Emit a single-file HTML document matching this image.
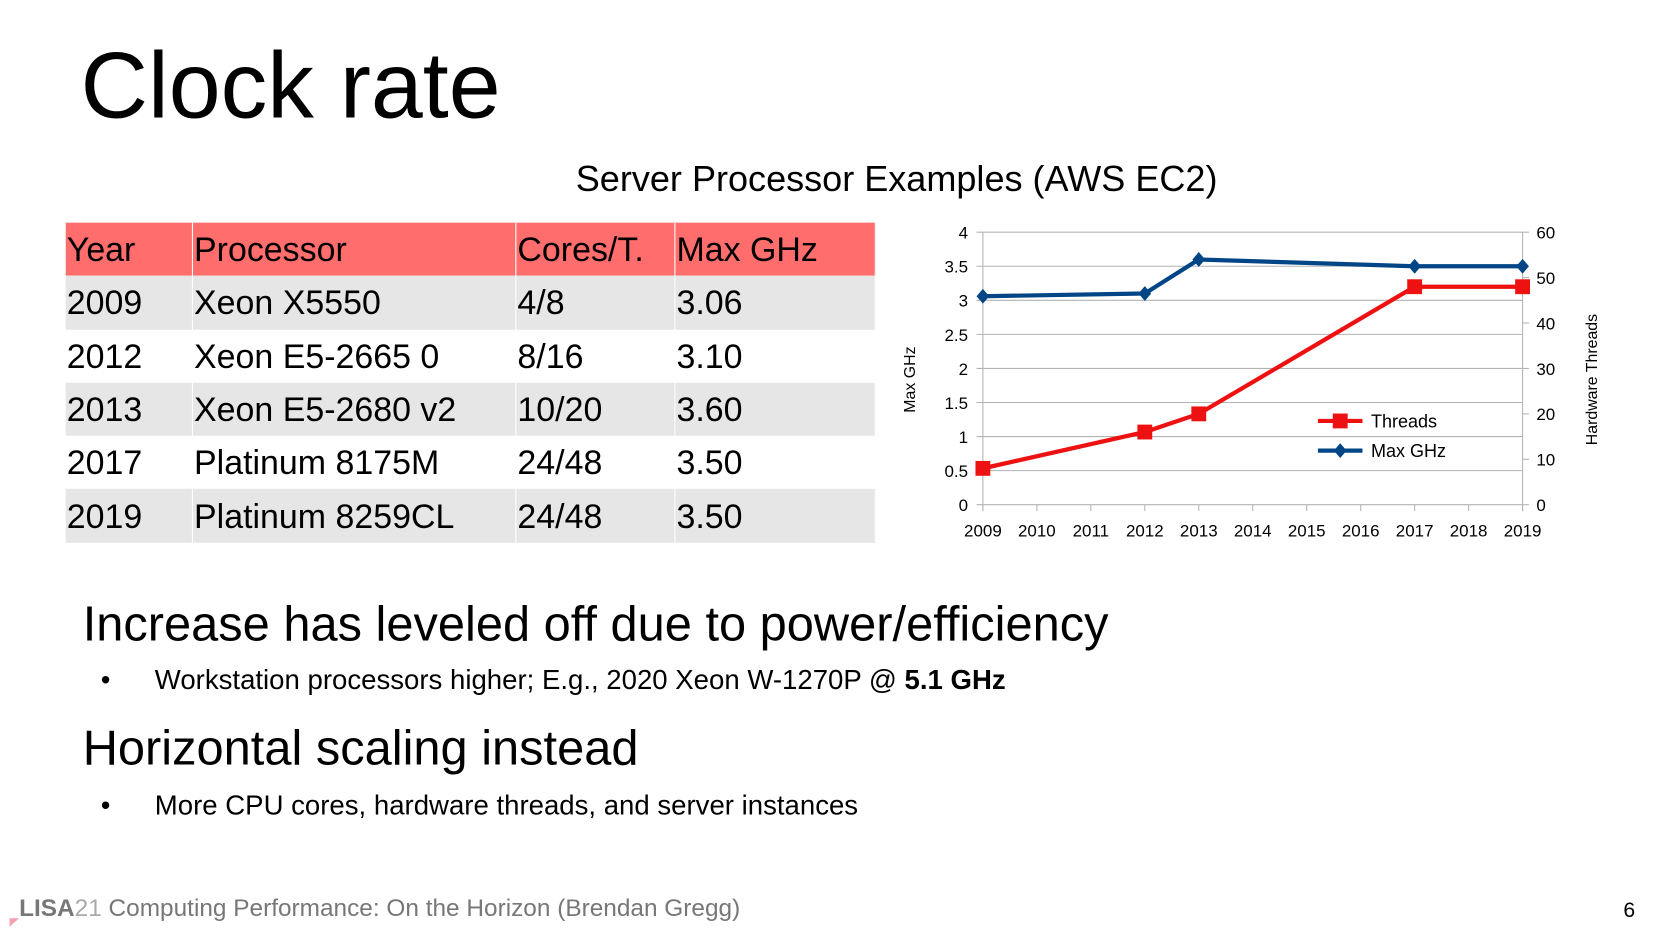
<!DOCTYPE html>
<html><head><meta charset="utf-8"><style>
body{margin:0;width:1654px;height:931px;overflow:hidden;background:#fff;font-family:"Liberation Sans",sans-serif}
#s{position:absolute;left:0;top:0;width:1560px;height:878px;transform:scale(1.0603);transform-origin:0 0}
.a{position:absolute;white-space:nowrap;color:#000}
table{position:absolute;left:62px;top:210px;border-collapse:collapse;font-size:32px}
td{height:50.3px;padding:0 0 0 1px;border-right:1px solid #fff;vertical-align:middle;line-height:1}
tr.h td{background:#ff6d6d}
tr.g td{background:#e6e6e6}
</style></head><body>
<div id="s">
<div class="a" style="left:76px;top:30px;font-size:88px">Clock rate</div>
<div class="a" style="left:543px;top:150px;font-size:34px">Server Processor Examples (AWS EC2)</div>
<table>
<tr class="h"><td style="width:118px">Year</td><td style="width:303px">Processor</td><td style="width:148px">Cores/T.</td><td style="width:187px">Max GHz</td></tr>
<tr class="g"><td>2009</td><td>Xeon X5550</td><td>4/8</td><td>3.06</td></tr>
<tr><td>2012</td><td>Xeon E5-2665 0</td><td>8/16</td><td>3.10</td></tr>
<tr class="g"><td>2013</td><td>Xeon E5-2680 v2</td><td>10/20</td><td>3.60</td></tr>
<tr><td>2017</td><td>Platinum 8175M</td><td>24/48</td><td>3.50</td></tr>
<tr class="g"><td>2019</td><td>Platinum 8259CL</td><td>24/48</td><td>3.50</td></tr>
</table>
<svg id="chart" width="1560" height="878" style="position:absolute;left:0;top:0" font-family="Liberation Sans, sans-serif"></svg>
<div class="a" style="left:78px;top:561px;font-size:46px">Increase has leveled off due to power/efficiency</div>
<div class="a" style="left:95px;top:626px;font-size:26px">•<span style="position:absolute;left:51px">Workstation processors higher; E.g., 2020 Xeon W-1270P @ <b>5.1 GHz</b></span></div>
<div class="a" style="left:78px;top:678px;font-size:46px">Horizontal scaling instead</div>
<div class="a" style="left:95px;top:744px;font-size:26px">•<span style="position:absolute;left:51px">More CPU cores, hardware threads, and server instances</span></div>
<div class="a" style="left:18px;top:843px;font-size:23px;color:#777"><b>LISA</b><span style="color:#aaa">21</span> Computing Performance: On the Horizon (Brendan Gregg)</div>
<div class="a" style="left:9px;top:866px;width:0;height:0;border-left:9px solid #f3a0b0;border-bottom:8px solid transparent"></div>
<div class="a" style="left:1531px;top:848px;font-size:20px">6</div>
</div>
<script>
const years=[2009,2010,2011,2012,2013,2014,2015,2016,2017,2018,2019];
const ptYears=[2009,2012,2013,2017,2019];
const ghz=[3.06,3.10,3.60,3.50,3.50];
const threads=[8,16,20,48,48];
const leftTicks=[0,0.5,1,1.5,2,2.5,3,3.5,4];
const rightTicks=[0,10,20,30,40,50,60];
const svg=document.getElementById('chart');const NS='http://www.w3.org/2000/svg';
const X0=927,X1=1436,Y0=476,Y1=219;
const x=v=>X0+(v-2009)/(2019-2009)*(X1-X0);
const yL=v=>Y0-v/4*(Y0-Y1);
const yR=v=>Y0-v/60*(Y0-Y1);
function mk(t,a,p){const e=document.createElementNS(NS,t);for(const k in a)e.setAttribute(k,a[k]);(p||svg).appendChild(e);return e;}
leftTicks.forEach(v=>{
const l=mk('line',{x1:X0-6,x2:X1,y1:yL(v),y2:yL(v),stroke:'#b3b3b3'});


const t=mk('text',{x:913,y:yL(v)+6,'text-anchor':'end','font-size':16});t.textContent=v;


});
rightTicks.forEach(v=>{
mk('line',{x1:X1,x2:X1+6,y1:yR(v),y2:yR(v),stroke:'#b3b3b3'});
const t=mk('text',{x:1449,y:yR(v)+6,'font-size':16});t.textContent=v;


});
mk('line',{x1:X0,x2:X0,y1:Y1,y2:Y0+6,stroke:'#b3b3b3'});
mk('line',{x1:X1,x2:X1,y1:Y1,y2:Y0+6,stroke:'#b3b3b3'});
years.forEach(v=>{
mk('line',{x1:x(v),x2:x(v),y1:Y0,y2:Y0+6,stroke:'#b3b3b3'});
const t=mk('text',{x:x(v),y:506,'text-anchor':'middle','font-size':16});t.textContent=v;


});
let t=mk('text',{transform:'translate(863,358) rotate(-90)','text-anchor':'middle','font-size':15});t.textContent='Max GHz';


t=mk('text',{transform:'translate(1506,358) rotate(-90)','text-anchor':'middle','font-size':15});t.textContent='Hardware Threads';


const pb=mk('polyline',{points:ptYears.map((y,i)=>x(y)+','+yL(ghz[i])).join(' '),fill:'none',stroke:'#004586','stroke-width':4});


ptYears.forEach((y,i)=>{const cx=x(y),cy=yL(ghz[i]);const d=mk('polygon',{points:`${cx},${cy-7} ${cx+6},${cy} ${cx},${cy+7} ${cx-6},${cy}`,fill:'#004586'});

});
const pr=mk('polyline',{points:ptYears.map((y,i)=>x(y)+','+yR(threads[i])).join(' '),fill:'none',stroke:'#ee1111','stroke-width':4});


ptYears.forEach((y,i)=>{const r=mk('rect',{x:x(y)-7,y:yR(threads[i])-7,width:14,height:14,fill:'#ee1111'});

});
const lg=mk('g',{});
mk('line',{x1:1243,x2:1285,y1:397,y2:397,stroke:'#ee1111','stroke-width':4},lg);
mk('rect',{x:1257,y:390,width:14,height:14,fill:'#ee1111'},lg);
t=mk('text',{x:1293,y:403,'font-size':17},lg);t.textContent='Threads';
mk('line',{x1:1243,x2:1285,y1:425,y2:425,stroke:'#004586','stroke-width':4},lg);
mk('polygon',{points:'1264,418 1270,425 1264,432 1258,425',fill:'#004586'},lg);
t=mk('text',{x:1293,y:431,'font-size':17},lg);t.textContent='Max GHz';
</script>
</body></html>
